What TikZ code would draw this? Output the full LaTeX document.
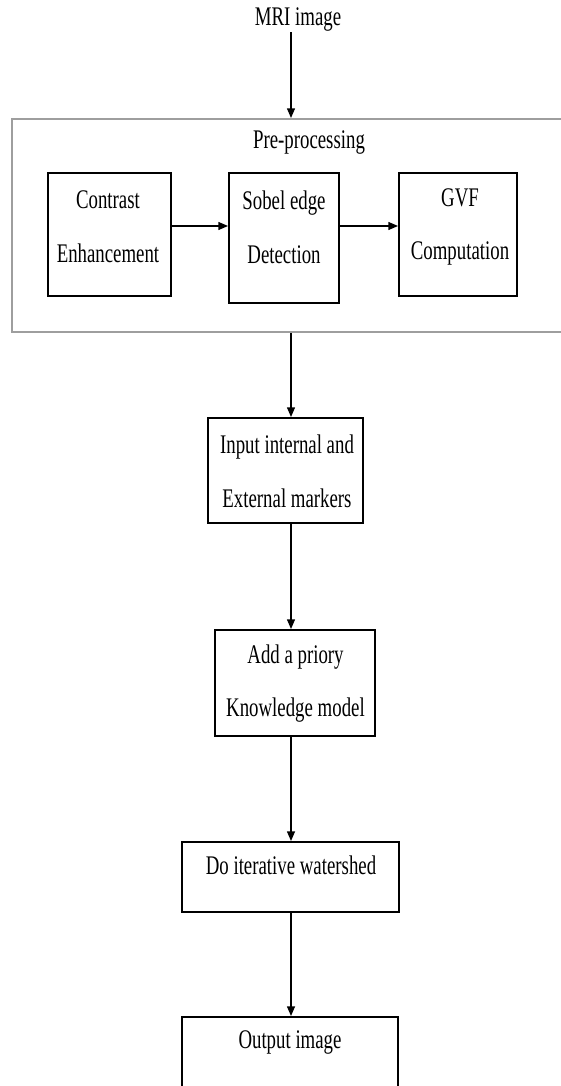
\documentclass[tikz,border=0pt]{standalone}
\usepackage{fontspec}
\setmainfont{Liberation Serif}[FakeStretch=0.7]
\usepackage{tikz}
\usetikzlibrary{positioning,calc,arrows.meta}

\begin{document}
\begin{tikzpicture}[
    box/.style={draw, line width=1.1pt, rectangle, inner sep=0pt},
    txt/.style={align=center, inner sep=0pt, font=\fontsize{15.3pt}{30.6pt}\selectfont},
    arr/.style={line width=0.8pt, -{Triangle[length=5.5pt,width=4.5pt]}}
]
    \useasboundingbox (0,0) rectangle (11.2,-21.72);

    % Input
    \node[txt] (mri) at (5.96,-0.40) {MRI image};

    % Pre-processing block
    \node[draw=black!38, line width=1.1pt, rectangle, inner sep=0pt,
          minimum width=11.16cm, minimum height=4.26cm] (pre) at (5.82,-4.51) {};
    \node[txt] (pretext) at (6.18,-2.86) {Pre-processing};

    \node[box, minimum width=2.46cm, minimum height=2.46cm] (contrast) at (2.19,-4.69) {};
    \node[txt] (contrasttext) at (2.16,-4.54) {Contrast\\Enhancement};

    \node[box, minimum width=2.2cm, minimum height=2.6cm] (sobel) at (5.68,-4.76) {};
    \node[txt] (sobeltext) at (5.68,-4.54) {Sobel edge\\Detection};

    \node[box, minimum width=2.36cm, minimum height=2.46cm] (gvf) at (9.16,-4.69) {};
    \node[txt] (gvftext) at (9.20,-4.54) {GVF\\Computation};

    % Segmentation steps
    \node[box, minimum width=3.1cm, minimum height=2.1cm] (markers) at (5.71,-9.41) {};
    \node[txt] (markerstext) at (5.74,-9.43) {Input internal and\\External markers};

    \node[box, minimum width=3.2cm, minimum height=2.12cm] (priory) at (5.90,-13.66) {};
    \node[txt] (priorytext) at (5.91,-13.67) {Add a priory\\Knowledge model};

    \node[box, minimum width=4.34cm, minimum height=1.4cm] (watershed) at (5.81,-17.54) {};
    \node[txt] (watershedtext) at (5.82,-17.30) {Do iterative watershed};

    \node[box, minimum width=4.32cm, minimum height=1.66cm] (output) at (5.80,-21.17) {};
    \node[txt] (outputtext) at (5.80,-20.84) {Output image};

    % Arrows
    \draw[arr] (mri.south -| pre.north) -- (pre.north);
    \draw[arr] ([yshift=0.17cm]contrast.east) -- ([yshift=0.17cm]contrast.east -| sobel.west);
    \draw[arr] ([yshift=0.24cm]sobel.east) -- ([yshift=0.24cm]sobel.east -| gvf.west);
    \draw[arr] (pre.south) -- (pre.south |- markers.north);
    \draw[arr] (pre.south |- markers.south) -- (pre.south |- priory.north);
    \draw[arr] (pre.south |- priory.south) -- (pre.south |- watershed.north);
    \draw[arr] (pre.south |- watershed.south) -- (pre.south |- output.north);
\end{tikzpicture}
\end{document}
